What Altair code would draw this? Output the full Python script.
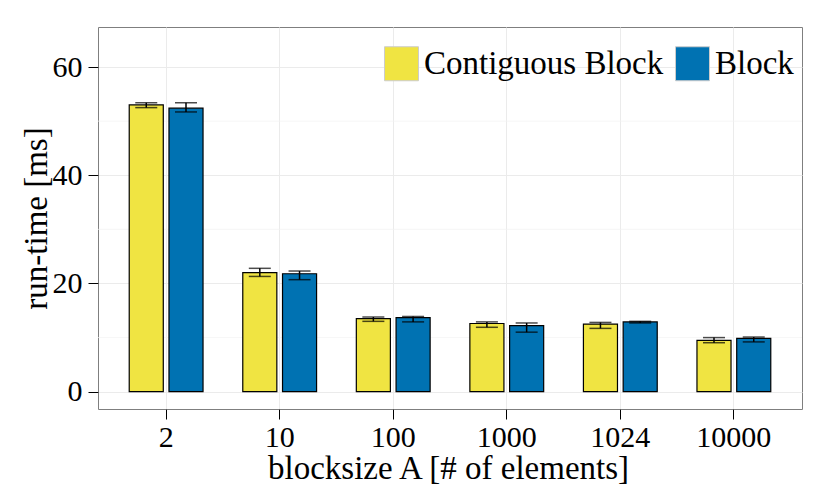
import altair as alt
import pandas as pd

blocksizes = ["2", "10", "100", "1000", "1024", "10000"]
series = ["Contiguous Block", "Block"]
colors = ["#F0E442", "#0072B2"]

contig_mean = [53.0, 22.0, 13.5, 12.6, 12.5, 9.5]
contig_lo = [52.5, 21.3, 13.0, 11.9, 11.7, 9.05]
contig_hi = [53.4, 22.8, 13.8, 12.9, 12.8, 10.0]

block_mean = [52.4, 21.8, 13.7, 12.2, 12.9, 9.85]
block_lo = [51.7, 20.7, 12.9, 11.0, 12.7, 9.2]
block_hi = [53.4, 22.3, 13.9, 12.7, 13.0, 10.1]

y_major = [0, 20, 40, 60]
y_minor = [10, 30, 50]

rows = []
for name, m, lo, hi in [
    (series[0], contig_mean, contig_lo, contig_hi),
    (series[1], block_mean, block_lo, block_hi),
]:
    for b, mv, lv, hv in zip(blocksizes, m, lo, hi):
        rows.append({"blocksize": b, "layout": name, "mean": mv, "lo": lv, "hi": hv})
df = pd.DataFrame(rows)
minor_df = pd.DataFrame({"v": y_minor})

FONT = "Liberation Serif"

yscale = alt.Scale(domain=[-3.2, 67.4], nice=False, zero=False)

y_axis = alt.Axis(
    values=y_major,
    title="run-time [ms]",
    grid=True,
    gridColor="#ebebeb",
    gridWidth=1,
    tickSize=10,
    tickColor="black",
    tickWidth=1,
    domain=False,
    labelFont=FONT,
    labelFontSize=30,
    labelColor="black",
    labelPadding=6,
    titleFont=FONT,
    titleFontSize=33,
    titleFontWeight="normal",
    titleColor="black",
    titleAngle=270,
    titleX=-52,
    titleY=191,
    titleBaseline="alphabetic",
    titleAlign="center",
)

x_enc = alt.X(
    "blocksize:N",
    sort=blocksizes,
    scale=alt.Scale(paddingInner=0, paddingOuter=0.1),
    axis=alt.Axis(
        title="blocksize A [# of elements]",
        labelAngle=0,
        grid=True,
        gridColor="#ebebeb",
        gridWidth=1,
        bandPosition=0.5,
        tickSize=10,
        tickColor="black",
        tickWidth=1,
        domain=False,
        labelFont=FONT,
        labelFontSize=30,
        labelColor="black",
        labelPadding=3,
        titleFont=FONT,
        titleFontSize=33,
        titleFontWeight="normal",
        titleColor="black",
        titleX=350,
        titleY=69,
        titleBaseline="alphabetic",
    ),
)
xoff_enc = alt.XOffset(
    "layout:N", sort=series, scale=alt.Scale(paddingInner=0.143, paddingOuter=0.5)
)

minor = alt.Chart(minor_df).mark_rule(color="#f2f2f2", strokeWidth=0.7).encode(
    y=alt.Y("v:Q", scale=yscale, axis=y_axis)
)

bars = alt.Chart(df).mark_bar(stroke="black", strokeWidth=1.2).encode(
    x=x_enc,
    xOffset=xoff_enc,
    y=alt.Y("mean:Q", scale=yscale, axis=y_axis),
    y2=alt.datum(0),
    color=alt.Color(
        "layout:N",
        sort=series,
        scale=alt.Scale(domain=series, range=colors),
        legend=alt.Legend(
            orient="none",
            legendX=286,
            legendY=19,
            direction="horizontal",
            title=None,
            symbolType="square",
            symbolSize=1156,
            symbolStrokeColor="#cccccc",
            symbolStrokeWidth=1,
            symbolOpacity=1,
            labelFont=FONT,
            labelFontSize=33,
            labelColor="black",
            labelOffset=5,
            labelLimit=0,
            columnPadding=9,
            padding=0,
        ),
    ),
)

err = alt.Chart(df).mark_rule(color="black", strokeWidth=1.5).encode(
    x=x_enc,
    xOffset=xoff_enc,
    y=alt.Y("lo:Q", scale=yscale, axis=y_axis),
    y2="hi:Q",
)
cap_lo = alt.Chart(df).mark_tick(color="black", size=22, thickness=1.5).encode(
    x=x_enc, xOffset=xoff_enc, y=alt.Y("lo:Q", scale=yscale, axis=y_axis)
)
cap_hi = alt.Chart(df).mark_tick(color="black", size=22, thickness=1.5).encode(
    x=x_enc, xOffset=xoff_enc, y=alt.Y("hi:Q", scale=yscale, axis=y_axis)
)

chart = (
    alt.layer(minor, bars, err, cap_lo, cap_hi)
    .properties(
        width=704,
        height=382,
        autosize=alt.AutoSizeParams(type="none"),
        padding={"left": 90, "top": 19, "right": 20, "bottom": 80},
        background="white",
    )
    .configure_view(stroke="#7f7f7f", strokeWidth=1)
)

chart.save("out.html", embed_options={"renderer": "svg", "actions": False})
